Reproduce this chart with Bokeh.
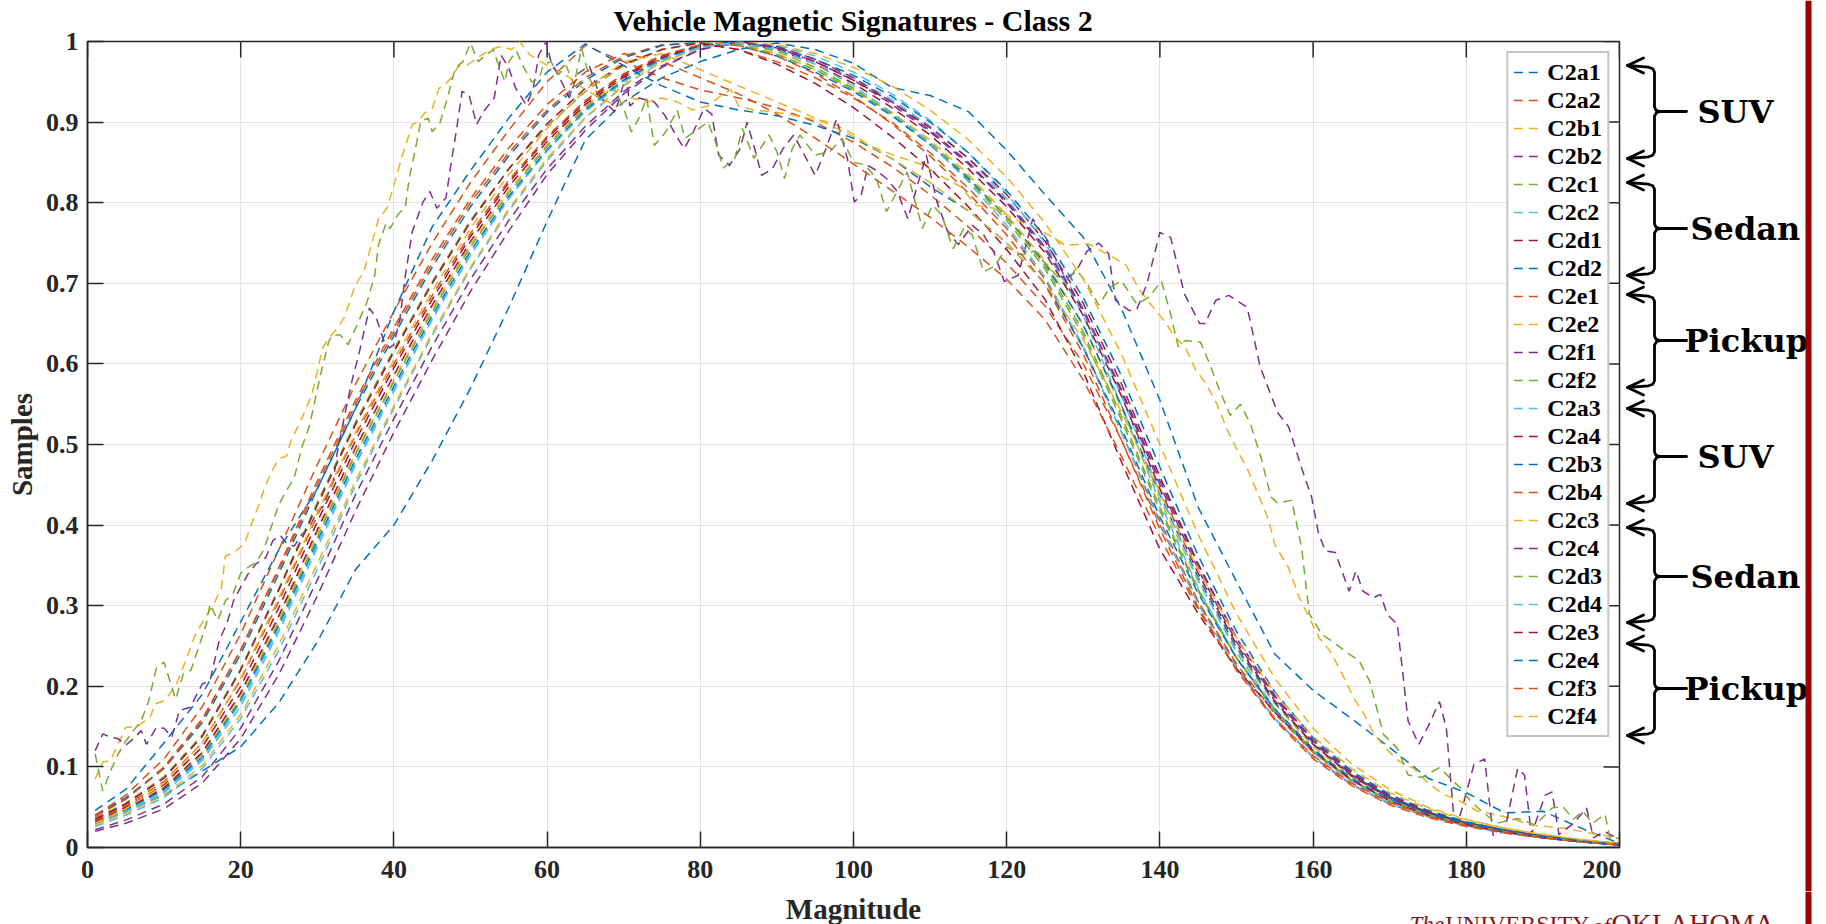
from bokeh.plotting import figure
from bokeh.layouts import row, column
from bokeh.models import FixedTicker, Range1d
from bokeh.core.properties import value
from bokeh.embed import file_html
from bokeh.resources import INLINE

# ---------------- data ----------------
X5 = [1, 5, 10, 15, 20, 25, 30, 35, 40, 45, 50, 55, 60, 65, 70, 75, 80, 85, 90, 95,
      100, 105, 110, 115, 120, 125, 130, 135, 140, 145, 150, 155, 160, 165, 170, 175,
      180, 185, 190, 195, 200]

C2a1 = [0.030,0.045,0.065,0.095,0.125,0.180,0.255,0.345,0.400,0.480,
        0.570,0.670,0.777,0.878,0.925,0.955,0.975,0.990,0.998,0.990,
        0.973,0.943,0.933,0.913,0.865,0.810,0.757,0.668,0.555,0.422,
        0.330,0.240,0.195,0.160,0.124,0.086,0.068,0.043,0.045,0.024,
        0.005]
C2a2 = [0.040,0.060,0.100,0.160,0.245,0.345,0.450,0.550,0.640,0.725,
        0.800,0.862,0.915,0.955,0.982,0.996,0.998,0.990,0.975,0.955,
        0.930,0.900,0.862,0.818,0.768,0.705,0.620,0.515,0.405,0.305,
        0.225,0.160,0.112,0.078,0.054,0.038,0.027,0.019,0.012,0.007,
        0.003]
C2b1 = [0.032,0.048,0.075,0.118,0.190,0.285,0.390,0.490,0.580,0.668,
        0.748,0.815,0.872,0.920,0.955,0.980,0.995,0.997,0.985,0.965,
        0.940,0.912,0.878,0.835,0.785,0.728,0.648,0.545,0.432,0.330,
        0.245,0.178,0.125,0.088,0.062,0.044,0.031,0.022,0.015,0.009,
        0.005]
C2b2 = [0.020,0.030,0.048,0.080,0.135,0.215,0.312,0.418,0.515,0.605,
        0.690,0.765,0.835,0.890,0.935,0.968,0.990,1.000,0.992,0.975,
        0.952,0.922,0.888,0.848,0.800,0.742,0.665,0.565,0.450,0.345,
        0.255,0.185,0.130,0.090,0.062,0.043,0.030,0.020,0.013,0.008,
        0.004]
C2c1 = [0.030,0.046,0.072,0.115,0.185,0.280,0.385,0.488,0.578,0.665,
        0.745,0.812,0.870,0.918,0.952,0.978,0.993,0.998,0.988,0.968,
        0.942,0.910,0.872,0.828,0.778,0.718,0.635,0.530,0.418,0.318,
        0.235,0.170,0.120,0.084,0.058,0.041,0.029,0.020,0.013,0.008,
        0.004]
C2c2 = [0.028,0.044,0.068,0.108,0.175,0.268,0.372,0.475,0.566,0.655,
        0.735,0.805,0.865,0.915,0.952,0.978,0.995,0.998,0.990,0.975,
        0.955,0.928,0.895,0.855,0.805,0.745,0.660,0.548,0.428,0.322,
        0.235,0.168,0.118,0.082,0.056,0.039,0.027,0.018,0.012,0.007,
        0.003]
C2d1 = [0.030,0.047,0.074,0.118,0.192,0.288,0.394,0.496,0.586,0.673,
        0.752,0.820,0.876,0.922,0.956,0.980,0.995,0.999,0.992,0.975,
        0.952,0.925,0.893,0.855,0.810,0.752,0.675,0.575,0.460,0.352,
        0.260,0.188,0.133,0.093,0.064,0.045,0.031,0.021,0.014,0.009,
        0.005]
C2d2 = [0.040,0.062,0.098,0.155,0.240,0.340,0.445,0.545,0.635,0.720,
        0.795,0.858,0.912,0.952,0.980,0.995,0.999,0.995,0.982,0.962,
        0.938,0.908,0.872,0.830,0.782,0.725,0.648,0.548,0.438,0.335,
        0.248,0.180,0.128,0.090,0.063,0.044,0.031,0.022,0.015,0.009,
        0.005]
C2e1 = [0.040,0.065,0.110,0.175,0.265,0.370,0.475,0.575,0.665,0.750,
        0.825,0.890,0.950,0.995,0.975,0.955,0.940,0.930,0.918,0.900,
        0.875,0.845,0.810,0.770,0.725,0.672,0.600,0.505,0.400,0.305,
        0.228,0.166,0.118,0.083,0.058,0.041,0.029,0.020,0.013,0.008,
        0.004]
C2e2_pts = [(1,0.085),(2,0.106),(3,0.108),(5,0.149),(6.5,0.150),(8.2,0.162),(8.8,0.178),
            (10,0.182),(11.5,0.200),(13,0.236),(14,0.262),(15.4,0.286),(16.5,0.302),(17.5,0.323),
            (18,0.362),(19,0.365),(20.5,0.377),(21.2,0.396),(22.4,0.426),(23,0.443),(24,0.466),
            (25,0.482),(26,0.486),(26.5,0.503),(28,0.533),(29.3,0.562),(30.7,0.620),(31.7,0.634),
            (32.6,0.644),(33.5,0.657),(34.9,0.696),(36.1,0.715),(37.3,0.756),(38,0.780),(39.1,0.793),
            (40,0.822),(41,0.855),(42.4,0.897),(43.1,0.900),(44,0.911),(45,0.917),(45.9,0.942),
            (46.6,0.946),(47.5,0.955),(48.4,0.969),(49.6,0.971),(50.8,0.979),(52.6,0.990),(54,0.994),
            (55.4,0.990),(56.4,1.000),(57.8,0.983),(59.2,0.975),(61,0.965),(63,0.955),(65,0.940),
            (67,0.930),(69,0.920),(71,0.930),(73,0.925),(75,0.930),(77,0.925),(79,0.915),(81,0.920),
            (83,0.935),(84,0.940),(85,0.920),(87,0.915),(89,0.913),(91,0.911),(93,0.907),(95,0.903),
            (97,0.900),(100,0.885),(102,0.871),(105,0.860),(109,0.847),(112,0.830),(114,0.820),
            (116,0.797),(118.3,0.793),(121,0.780),(123,0.772),(125.5,0.760),(127.7,0.747),
            (130.5,0.749),(131.5,0.745),(133.3,0.735),(134.2,0.731),(135.6,0.722),(137.4,0.691),
            (138.8,0.674),(140.6,0.653),(142,0.633),(143.3,0.621),(144.7,0.592),(146,0.576),
            (147.4,0.551),(148.8,0.518),(150.1,0.493),(151.5,0.468),(152.8,0.439),(154.2,0.406),
            (155,0.376),(156.8,0.347),(158.2,0.310),(159.5,0.285),(160.8,0.260),(162.2,0.244),
            (163.6,0.219),(165.3,0.186),(166.7,0.165),(168,0.140),(169.4,0.124),(171.2,0.107),
            (173,0.099),(174.8,0.082),(177,0.066),(179.3,0.057),(181.5,0.045),(183.7,0.041),
            (186,0.036),(188.3,0.028),(190.5,0.026),(192.8,0.024),(195,0.020),(197.3,0.016),
            (200,0.012)]
C2f1_pts = [(1,0.120),(2,0.141),(3,0.137),(4,0.135),(5,0.127),(6,0.135),(7,0.145),(7.7,0.128),
            (9,0.149),(10,0.148),(11,0.137),(12,0.170),(13.5,0.174),(14,0.185),(15,0.203),(16,0.207),
            (16.5,0.228),(17.2,0.257),(18.2,0.278),(19.1,0.307),(20,0.323),(21,0.340),(22,0.352),
            (23.3,0.360),(24.2,0.381),(25.2,0.387),(26.1,0.376),(27,0.374),(28,0.389),(29,0.397),
            (30,0.418),(30.7,0.422),(32.1,0.455),(32.6,0.490),(33.5,0.533),(34.5,0.578),(35.4,0.611),
            (36.8,0.669),(37.7,0.657),(38.7,0.628),(39.4,0.620),(40,0.624),(40.8,0.657),(41.5,0.710),
            (42.4,0.764),(43.8,0.801),(44.7,0.814),(45.6,0.793),(46.8,0.806),(47.5,0.851),(48.2,0.892),
            (48.9,0.938),(49.8,0.934),(50.8,0.897),(51.7,0.913),(53.1,0.930),(54,0.983),(55,0.967),
            (55.9,0.942),(57.3,0.921),(58.2,0.942),(58.9,0.983),(59.9,1.000),(60.5,0.975),(61.9,0.950),
            (62.9,0.930),(64,0.960),(65.5,0.970),(67,0.930),(68.9,0.912),(70.3,0.958),(70.8,0.920),
            (72,0.930),(74,0.925),(75.4,0.908),(76.8,0.884),(77.9,0.867),(79.1,0.888),(80.5,0.917),
            (81.5,0.910),(82.4,0.859),(83.8,0.846),(85.2,0.867),(86.1,0.900),(87.1,0.867),(88,0.834),
            (89.4,0.842),(90.8,0.867),(92.2,0.884),(93.6,0.859),(95,0.834),(96.4,0.867),(97.8,0.904),
            (99.2,0.855),(100.1,0.801),(101,0.809),(101.9,0.846),(103,0.840),(104.3,0.830),
            (105.7,0.814),(107.1,0.780),(108.3,0.820),(109.5,0.859),(110.9,0.801),(112.3,0.764),
            (113.7,0.748),(115.5,0.772),(117,0.760),(118.3,0.739),(119.7,0.702),(121.5,0.710),
            (123.4,0.780),(125.3,0.751),(127.7,0.706),(129,0.714),(130.5,0.740),(132,0.750),
            (133.3,0.737),(134.2,0.679),(136,0.666),(137,0.668),(138.3,0.699),(140,0.763),
            (141.4,0.757),(143.2,0.687),(145.2,0.650),(145.9,0.650),(147.3,0.679),(149,0.685),
            (151.4,0.670),(153.1,0.596),(155.4,0.539),(156.8,0.522),(158.6,0.468),(159.8,0.435),
            (160.7,0.390),(161.6,0.368),(162.9,0.366),(164.7,0.318),(165.6,0.343),(166.5,0.318),
            (167.9,0.310),(168.8,0.314),(169.7,0.289),(171,0.277),(172.4,0.157),(173.8,0.128),
            (175,0.150),(176.5,0.181),(177.4,0.148),(178.3,0.045),(179.2,0.040),(181,0.103),
            (182.4,0.110),(183.5,0.015),(185,0.020),(186.7,0.098),(187.6,0.090),(188.5,0.016),
            (190.3,0.065),(191.2,0.069),(192.1,0.016),(194,0.030),(195.7,0.049),(196.6,0.012),
            (198,0.020),(200,0.010)]
C2f2_pts = [(1,0.116),(2,0.070),(3,0.095),(4,0.116),(5,0.132),(6,0.145),(7,0.157),(8,0.182),
            (9,0.223),(10,0.230),(11,0.199),(11.5,0.184),(12.5,0.215),(13.5,0.220),(14.5,0.248),
            (15.5,0.277),(16,0.302),(17,0.282),(18,0.306),(19,0.315),(20,0.340),(21,0.348),(22,0.354),
            (23,0.369),(24,0.398),(25,0.426),(26,0.443),(27,0.459),(28,0.497),(29,0.524),(30.5,0.590),
            (31.5,0.628),(32,0.636),(33,0.636),(34,0.624),(35,0.644),(36.5,0.677),(37.5,0.710),
            (38,0.748),(39,0.775),(39.5,0.768),(40.5,0.785),(41.5,0.795),(42,0.830),(43,0.876),
            (43.5,0.901),(44.5,0.905),(45,0.888),(46,0.899),(47,0.930),(48,0.967),(49,0.975),
            (50,0.998),(51,0.975),(52,0.983),(53,0.990),(53.5,0.975),(54.5,0.950),(55,0.975),
            (56,0.988),(57,0.967),(58,0.950),(59,0.955),(59.5,0.971),(60.5,0.975),(61.5,0.959),
            (62.5,0.970),(63.5,0.946),(64.5,0.992),(65.5,0.955),(67,0.926),(68.5,0.946),(70,0.917),
            (71,0.888),(72,0.905),(73,0.930),(74,0.871),(75.5,0.888),(77,0.915),(78,0.880),
            (79.5,0.890),(81,0.900),(82,0.875),(83,0.843),(84.5,0.855),(85.5,0.892),(87,0.855),
            (89,0.884),(90,0.863),(91,0.830),(92,0.867),(93,0.884),(95,0.859),(97,0.864),(98.5,0.880),
            (100,0.850),(101.5,0.847),(103,0.830),(104.3,0.789),(105.7,0.814),(107,0.838),(109,0.768),
            (110.3,0.797),(111.5,0.785),(113,0.743),(114.4,0.768),(115.5,0.760),(117,0.714),
            (118.5,0.722),(120,0.745),(122,0.735),(123.5,0.740),(125.3,0.722),(127.7,0.697),
            (129,0.718),(130.5,0.700),(132,0.673),(133.5,0.695),(135,0.703),(137,0.674),(138.6,0.683),
            (140.2,0.703),(141.5,0.658),(142.4,0.621),(143.3,0.629),(145.3,0.627),(146.5,0.600),
            (147.8,0.567),(149.2,0.536),(150.5,0.550),(151.8,0.526),(153.2,0.484),(154.5,0.435),
            (155.4,0.427),(157.2,0.431),(158.5,0.372),(159.5,0.290),(161.2,0.264),(162.5,0.256),
            (164.7,0.240),(166,0.232),(167.4,0.206),(168.3,0.173),(169.2,0.140),(170.1,0.132),
            (171,0.123),(172.4,0.090),(174.2,0.087),(176.5,0.099),(177.8,0.087),(179.2,0.074),
            (180.6,0.057),(182,0.045),(184,0.030),(186.7,0.036),(189,0.028),(191.2,0.049),
            (192.6,0.051),(194,0.035),(195.2,0.045),(196.5,0.030),(198.1,0.041),(198.8,0.010),
            (200,0.012)]
C2a3 = [0.026,0.040,0.062,0.098,0.160,0.245,0.345,0.450,0.545,0.635,
        0.718,0.790,0.852,0.905,0.945,0.975,0.992,0.999,0.995,0.982,
        0.962,0.935,0.902,0.862,0.812,0.750,0.668,0.560,0.440,0.332,
        0.242,0.172,0.120,0.083,0.057,0.039,0.027,0.018,0.012,0.007,
        0.003]
C2a4 = [0.032,0.050,0.078,0.125,0.200,0.298,0.404,0.505,0.595,0.680,
        0.758,0.825,0.880,0.925,0.958,0.982,0.996,0.999,0.990,0.972,
        0.948,0.918,0.884,0.842,0.795,0.738,0.660,0.560,0.445,0.340,
        0.252,0.182,0.128,0.089,0.061,0.043,0.030,0.021,0.014,0.008,
        0.004]
C2b3 = [0.030,0.046,0.072,0.112,0.182,0.276,0.380,0.482,0.572,0.660,
        0.740,0.808,0.866,0.915,0.952,0.978,0.994,1.000,0.993,0.978,
        0.958,0.932,0.900,0.862,0.815,0.758,0.682,0.585,0.472,0.362,
        0.268,0.193,0.136,0.095,0.066,0.046,0.032,0.022,0.014,0.009,
        0.005]
C2b4 = [0.034,0.052,0.082,0.130,0.208,0.306,0.412,0.512,0.600,0.685,
        0.762,0.828,0.882,0.927,0.960,0.983,0.996,0.995,0.982,0.960,
        0.932,0.898,0.858,0.812,0.760,0.698,0.612,0.505,0.395,0.298,
        0.220,0.158,0.110,0.077,0.053,0.037,0.026,0.018,0.012,0.007,
        0.003]
C2c3 = [0.028,0.042,0.065,0.102,0.165,0.252,0.352,0.455,0.548,0.638,
        0.720,0.792,0.855,0.906,0.946,0.975,0.992,0.999,0.996,0.985,
        0.968,0.945,0.915,0.878,0.832,0.775,0.705,0.612,0.500,0.388,
        0.290,0.210,0.148,0.104,0.072,0.050,0.035,0.024,0.016,0.010,
        0.005]
C2c4 = [0.022,0.034,0.054,0.088,0.148,0.232,0.332,0.438,0.532,0.622,
        0.705,0.778,0.842,0.895,0.938,0.970,0.990,0.999,0.994,0.978,
        0.955,0.925,0.890,0.850,0.802,0.745,0.668,0.568,0.455,0.350,
        0.260,0.188,0.132,0.092,0.063,0.043,0.029,0.019,0.012,0.007,
        0.003]
C2d3 = [0.036,0.055,0.088,0.140,0.222,0.322,0.428,0.528,0.618,0.702,
        0.778,0.842,0.895,0.938,0.970,0.990,0.999,0.996,0.984,0.965,
        0.940,0.910,0.875,0.832,0.782,0.722,0.640,0.535,0.422,0.320,
        0.236,0.170,0.120,0.084,0.058,0.041,0.029,0.020,0.013,0.008,
        0.004]
C2d4 = [0.030,0.045,0.070,0.110,0.180,0.272,0.376,0.478,0.568,0.656,
        0.736,0.805,0.864,0.913,0.950,0.977,0.993,0.998,0.990,0.972,
        0.945,0.912,0.873,0.826,0.772,0.708,0.622,0.515,0.402,0.302,
        0.222,0.160,0.113,0.079,0.055,0.039,0.027,0.019,0.012,0.007,
        0.003]
C2e3 = [0.035,0.054,0.086,0.138,0.220,0.320,0.425,0.525,0.615,0.700,
        0.776,0.842,0.898,0.942,0.972,0.990,0.998,0.990,0.972,0.948,
        0.918,0.882,0.842,0.795,0.742,0.680,0.590,0.478,0.370,0.290,
        0.222,0.168,0.120,0.084,0.058,0.040,0.028,0.019,0.012,0.007,
        0.003]
C2e4 = [0.046,0.072,0.130,0.190,0.280,0.370,0.445,0.545,0.665,0.770,
        0.840,0.905,0.962,0.997,0.970,0.945,0.925,0.915,0.908,0.896,
        0.880,0.855,0.820,0.790,0.750,0.700,0.620,0.520,0.410,0.315,
        0.235,0.172,0.122,0.086,0.060,0.042,0.030,0.021,0.014,0.008,
        0.004]
C2f3 = [0.038,0.060,0.098,0.158,0.245,0.348,0.455,0.555,0.645,0.730,
        0.805,0.868,0.922,0.962,0.985,0.975,0.955,0.935,0.910,0.880,
        0.848,0.815,0.782,0.745,0.705,0.655,0.580,0.485,0.385,0.295,
        0.220,0.160,0.114,0.080,0.056,0.039,0.027,0.019,0.012,0.007,
        0.003]
C2f4 = [0.030,0.048,0.080,0.130,0.210,0.310,0.415,0.515,0.605,0.690,
        0.768,0.835,0.892,0.940,0.975,0.985,0.965,0.945,0.925,0.905,
        0.882,0.855,0.825,0.790,0.750,0.700,0.630,0.540,0.440,0.345,
        0.260,0.192,0.138,0.098,0.068,0.048,0.034,0.024,0.016,0.010,
        0.005]

def xs_of(pts):
    return [a for a, b in pts]

def ys_of(pts):
    return [b for a, b in pts]

SERIES = [
    ("C2a1", X5, C2a1), ("C2a2", X5, C2a2), ("C2b1", X5, C2b1), ("C2b2", X5, C2b2),
    ("C2c1", X5, C2c1), ("C2c2", X5, C2c2), ("C2d1", X5, C2d1), ("C2d2", X5, C2d2),
    ("C2e1", X5, C2e1), ("C2e2", xs_of(C2e2_pts), ys_of(C2e2_pts)),
    ("C2f1", xs_of(C2f1_pts), ys_of(C2f1_pts)), ("C2f2", xs_of(C2f2_pts), ys_of(C2f2_pts)),
    ("C2a3", X5, C2a3), ("C2a4", X5, C2a4), ("C2b3", X5, C2b3), ("C2b4", X5, C2b4),
    ("C2c3", X5, C2c3), ("C2c4", X5, C2c4), ("C2d3", X5, C2d3), ("C2d4", X5, C2d4),
    ("C2e3", X5, C2e3), ("C2e4", X5, C2e4), ("C2f3", X5, C2f3), ("C2f4", X5, C2f4),
]
PALETTE = ["#0072BD", "#D95319", "#EDB120", "#7E2F8E", "#77AC30", "#4DBEEE", "#A2142F"]

X_TICKS = [0, 20, 40, 60, 80, 100, 120, 140, 160, 180, 200]
Y_TICKS = [0, 0.1, 0.2, 0.3, 0.4, 0.5, 0.6, 0.7, 0.8, 0.9, 1]
Y_LABELS = ["0", "0.1", "0.2", "0.3", "0.4", "0.5", "0.6", "0.7", "0.8", "0.9", "1"]

GROUPS = ["SUV", "Sedan", "Pickup", "SUV", "Sedan", "Pickup"]
X_LABEL = "Magnitude"
# (text, style, font px, left edge px)
LOGO = [("The", "italic", 23, 1409), ("UNIVERSITY", "normal", 24, 1445),
        ("of", "italic", 22, 1592), ("OKLAHOMA", "normal", 28, 1611)]

# ---------------- geometry / style ----------------
W, H = 1826, 924
FL, FR, FT, FB = 87, 1619, 41, 847      # plot frame inside the main figure
WM, HM = 1621, 891                      # main figure size
AX = "#262626"
SERIF = "Liberation Serif"
TICK = 16                               # inward tick length, px
MID = 0.3375                            # (ascent - descent) / 2, in em, for the serif face


def no_align(f):
    if "frame_align" in f.properties():
        f.frame_align = False
    return f


# ---------------- main figure ----------------
p = figure(width=WM, height=HM, x_range=Range1d(0, 200), y_range=Range1d(0, 1),
           output_backend="svg", toolbar_location=None,
           min_border_left=FL, min_border_right=WM - FR, min_border_top=FT,
           min_border_bottom=HM - FB)
no_align(p)
p.outline_line_color = AX
p.outline_line_width = 1.5
p.background_fill_color = "white"
p.border_fill_color = "white"

p.title.text = "Vehicle Magnetic Signatures - Class 2"
p.title.text_font = SERIF
p.title.text_font_style = "bold"
p.title.text_font_size = "30px"
p.title.text_color = "black"
p.title.align = "left"
p.title.offset = 526
p.title.vertical_align = "top"
p.title.standoff = 5

xt = FixedTicker(ticks=X_TICKS)
yt = FixedTicker(ticks=Y_TICKS)
for ax in (p.xaxis[0], p.yaxis[0]):
    ax.major_tick_in = TICK
    ax.major_tick_out = 0
    ax.minor_tick_line_color = None
    ax.axis_line_color = AX
    ax.axis_line_width = 1.5
    ax.major_tick_line_color = AX
    ax.major_tick_line_width = 1.5
    ax.major_label_text_font = SERIF
    ax.major_label_text_font_style = "bold"
    ax.major_label_text_font_size = "26px"
    ax.major_label_text_color = AX
    ax.axis_label_text_font = SERIF
    ax.axis_label_text_font_style = "bold"
    ax.axis_label_text_font_size = "29px"
    ax.axis_label_text_color = AX
p.xaxis[0].ticker = xt
p.yaxis[0].ticker = yt
p.yaxis[0].major_label_overrides = {t: s for t, s in zip(Y_TICKS, Y_LABELS)}
p.yaxis[0].axis_label = "Samples"
p.xaxis[0].major_label_standoff = 13
p.yaxis[0].major_label_standoff = 9
p.yaxis[0].axis_label_standoff = 5

p.xgrid.ticker = xt
p.ygrid.ticker = yt
p.xgrid.grid_line_color = "#e3e3e3"
p.ygrid.grid_line_color = "#e3e3e3"

# inward ticks on the top and right edges of the box
dy_tick = TICK / (FB - FT)
dx_tick = TICK * 200.0 / (FR - FL)
p.segment(x0=X_TICKS, y0=[1] * len(X_TICKS), x1=X_TICKS, y1=[1 - dy_tick] * len(X_TICKS),
          line_color=AX, line_width=1.5)
p.segment(x0=[200] * len(Y_TICKS), y0=Y_TICKS, x1=[200 - dx_tick] * len(Y_TICKS), y1=Y_TICKS,
          line_color=AX, line_width=1.5)

for i, (name, xs, ys) in enumerate(SERIES):
    p.line(xs, ys, line_color=PALETTE[i % 7], line_width=1.5, line_dash="9 6",
           legend_label=name)

leg = p.legend[0]
leg.location = "top_right"
leg.margin = 10
leg.padding = 5
leg.spacing = 0
leg.label_height = 28
leg.glyph_height = 28
leg.glyph_width = 28
leg.label_standoff = 6
leg.label_text_font = SERIF
leg.label_text_font_style = "bold"
leg.label_text_font_size = "24px"
leg.label_text_color = "black"
leg.border_line_color = "#8c8c8c"
leg.border_line_width = 2
leg.background_fill_color = "white"
leg.background_fill_alpha = 1.0


# ---------------- helper for the decoration panels ----------------
def blank(width, height, x0, x1, ytop, ybot):
    f = figure(width=width, height=height, x_range=Range1d(x0, x1), y_range=Range1d(ybot, ytop),
               output_backend="svg", toolbar_location=None, x_axis_type=None, y_axis_type=None,
               min_border=0, min_border_left=0, min_border_right=0, min_border_top=0,
               min_border_bottom=0)
    no_align(f)
    f.grid.visible = False
    f.outline_line_color = None
    f.background_fill_color = "white"
    f.border_fill_color = "white"
    return f


# ---------------- right-hand panel: braces and group names ----------------
side = blank(W - WM, HM, WM, W, 0, HM)

BRACES = [(65, 111, 158), (182, 228, 275), (294, 340, 387),
          (408, 456, 503), (527, 576, 622), (643, 688, 735)]
LABEL_LEFT = {"SUV": 1697, "Sedan": 1690, "Pickup": 1684}
TIP, XV = 1627, 1654

bx, by = [], []
for ytop, ymid, ybot in BRACES:
    bx.append([TIP, 1648, 1652.3, XV, XV, 1655.6, 1660, 1656, XV, XV, 1652.3, 1648, TIP])
    by.append([ytop, ytop + 1.7, ytop + 3.3, ytop + 6.7, ymid - 4.5, ymid - 1.2, ymid,
               ymid + 1.2, ymid + 4.5, ybot - 6.7, ybot - 3.3, ybot - 1.7, ybot])
    bx.append([1658, 1686]); by.append([ymid, ymid])
    for yy in (ytop, ybot):
        bx.append([TIP + 16, TIP, TIP + 16]); by.append([yy - 7.5, yy, yy + 7.5])
side.multi_line(xs=bx, ys=by, line_color="black", line_width=2.8,
                line_cap="round", line_join="round")
side.text(x=[LABEL_LEFT[g] for g in GROUPS], y=[b[1] for b in BRACES], text=GROUPS,
          text_font=value("DejaVu Serif"), text_font_style="bold", text_font_size="32px",
          text_color="black", text_baseline="middle", text_align="left")
RED_X = 1808
side.segment(x0=[RED_X], y0=[0], x1=[RED_X], y1=[HM], line_color="#990000", line_width=6)

# ---------------- bottom strip: axis title and university word-mark ----------------
strip = blank(W, H - HM, 0, W, HM, H)
XLAB_BASE, XLAB_SIZE = 918, 29
strip.text(x=[(FL + FR) / 2], y=[XLAB_BASE - MID * XLAB_SIZE], text=[X_LABEL],
           text_font=value(SERIF), text_font_style="bold", text_font_size="%dpx" % XLAB_SIZE,
           text_color=AX, text_align="center", text_baseline="middle")
LOGO_BASE = 932
for txt, style, size, lx in LOGO:
    strip.text(x=[lx], y=[LOGO_BASE - MID * size], text=[txt], text_font=value(SERIF),
               text_font_style=style, text_font_size="%dpx" % size, text_color="#841617",
               text_align="left", text_baseline="middle")
strip.segment(x0=[RED_X], y0=[HM], x1=[RED_X], y1=[H], line_color="#990000", line_width=6)

layout = column(row(p, side, spacing=0), strip, spacing=0)
open("out.html", "w").write(file_html(layout, INLINE))
